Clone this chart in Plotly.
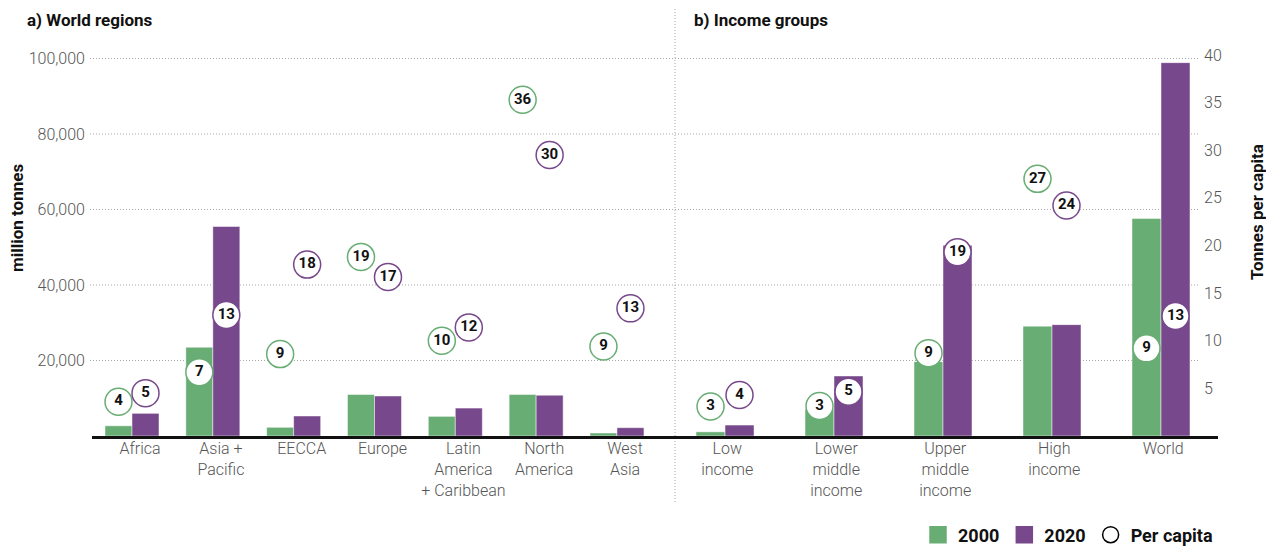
import plotly.graph_objects as go

# ---------------- data ----------------
regions = ["Africa", "Asia +<br>Pacific", "EECCA", "Europe",
           "Latin<br>America<br>+ Caribbean", "North<br>America", "West<br>Asia"]
reg_2000 = [2700, 23500, 2300, 11000, 5200, 11000, 800]
reg_2020 = [6000, 55500, 5300, 10600, 7400, 10800, 2200]
reg_pc_2000 = [3.6, 6.7, 8.6, 18.8, 10.0, 35.3, 9.4]
reg_pc_2020 = [4.5, 12.7, 18.0, 16.7, 11.4, 29.5, 13.4]
reg_lab_2000 = ["4", "7", "9", "19", "10", "36", "9"]
reg_lab_2020 = ["5", "13", "18", "17", "12", "30", "13"]

incomes = ["Low<br>income", "Lower<br>middle<br>income", "Upper<br>middle<br>income",
           "High<br>income", "World"]
inc_2000 = [1100, 7100, 19700, 29100, 57600]
inc_2020 = [2900, 15900, 50500, 29500, 98900]
inc_pc_2000 = [3.1, 3.15, 8.7, 27.0, 9.2]
inc_pc_2020 = [4.3, 4.65, 19.3, 24.2, 12.6]
inc_lab_2000 = ["3", "3", "9", "27", "9"]
inc_lab_2020 = ["4", "5", "19", "24", "13"]

mass_ticks = [20000, 40000, 60000, 80000, 100000]
pc_ticks = [5, 10, 15, 20, 25, 30, 35, 40]

GREEN = "#68ad73"
PURPLE = "#77488b"
TICK_COLOR = "#555555"

# ---------------- layout geometry ----------------
# the page body has an 8px margin, so the figure is drawn 8px in from the window corner
OFF = 8
W, H = 1274 - OFF, 546 - OFF
PLOT_L, PLOT_R, PLOT_T, PLOT_B = 92, 1218, 40, 436   # window pixels of the plot area
ML = PLOT_L - OFF
MT = PLOT_T - OFF
PW = PLOT_R - PLOT_L
PH = PLOT_B - PLOT_T
MR = W - ML - PW
MB = H - MT - PH


def fx(xpx):
    return (xpx - PLOT_L) / PW


def fy(ypx):
    return (PLOT_B - ypx) / PH


split = fx(675)
w_left = 0.334
w_right = 0.266
left_label_shift = 0.1   # region labels sit slightly right of their bar pair
right_label_shift = 0.02

fig = go.Figure()


def add_panel(cats, v0, v1, pc0, pc1, l0, l1, xa, w):
    idx = list(range(len(cats)))
    fig.add_trace(go.Bar(x=idx, y=v0, width=w, offset=-w, marker_color=GREEN,
                         marker_line=dict(color="rgba(255,255,255,0.6)", width=0.8),
                         name="2000", xaxis=xa, yaxis="y", showlegend=False,
                         hoverinfo="skip"))
    fig.add_trace(go.Bar(x=idx, y=v1, width=w, offset=0, marker_color=PURPLE,
                         marker_line=dict(color="rgba(255,255,255,0.6)", width=0.8),
                         name="2020", xaxis=xa, yaxis="y", showlegend=False,
                         hoverinfo="skip"))
    for ys, labs, col, shift in ((pc0, l0, GREEN, -w / 2), (pc1, l1, PURPLE, w / 2)):
        fig.add_trace(go.Scatter(
            x=[i + shift for i in idx], y=ys, text=labs, mode="markers+text",
            textposition="middle center",
            textfont=dict(family="Roboto", size=15, color="#111111", weight="bold"),
            marker=dict(size=27, color="white", line=dict(color=col, width=1.5)),
            xaxis=xa, yaxis="y2", showlegend=False, hoverinfo="skip"))


add_panel(regions, reg_2000, reg_2020, reg_pc_2000, reg_pc_2020,
          reg_lab_2000, reg_lab_2020, "x", w_left)
add_panel(incomes, inc_2000, inc_2020, inc_pc_2000, inc_pc_2020,
          inc_lab_2000, inc_lab_2020, "x2", w_right)

# legend entries
for name, col, sym, lc in (("2000", GREEN, "square", GREEN), ("2020", PURPLE, "square", PURPLE),
                           ("Per capita", "white", "circle", "black")):
    fig.add_trace(go.Scatter(x=[None], y=[None], mode="markers", name=name,
                             marker=dict(size=16, color=col, symbol=sym,
                                         line=dict(color=lc, width=1.5)),
                             xaxis="x", yaxis="y2", showlegend=True))

y_top = PH / 3.775 * 1000
y2_top = PH / 9.525

tickfont = dict(family="Roboto", size=16, color=TICK_COLOR, weight=300)

fig.update_layout(
    width=W, height=H,
    margin=dict(l=ML, r=MR, t=MT, b=MB, autoexpand=False),
    plot_bgcolor="white", paper_bgcolor="white",
    barmode="overlay",
    font=dict(family="Roboto", color="#111111"),
    xaxis=dict(domain=[0, split], range=[-0.495, 6.718],
               tickvals=[i + left_label_shift for i in range(len(regions))],
               ticktext=regions, showgrid=False, zeroline=False, showline=True,
               linecolor="#111111", linewidth=2.5, ticks="", tickfont=tickfont,
               ticklabelstandoff=-4, fixedrange=True, automargin=False),
    xaxis2=dict(domain=[split, 1], range=[-0.459, 4.523],
                tickvals=[i + right_label_shift for i in range(len(incomes))],
                ticktext=incomes, showgrid=False, zeroline=False, showline=True,
                linecolor="#111111", linewidth=2.5, ticks="", tickfont=tickfont,
                ticklabelstandoff=-4, anchor="y", fixedrange=True, automargin=False),
    yaxis=dict(range=[0, y_top], tickvals=mass_ticks, tickformat=",", showgrid=False,
               zeroline=False, showline=False, ticks="", tickfont=tickfont,
               ticklabelstandoff=6, anchor="x", automargin=False),
    yaxis2=dict(range=[0, y2_top], tickvals=pc_ticks, overlaying="y", side="right",
                anchor="free", position=fx(1199), showgrid=False, zeroline=False,
                showline=False, ticks="", tickfont=tickfont, ticklabelstandoff=4,
                automargin=False),
    legend=dict(orientation="h", x=1.0, xanchor="right", y=fy(535),
                yanchor="middle", font=dict(family="Roboto", size=18, color="#111111",
                                            weight="bold"),
                bgcolor="rgba(0,0,0,0)", traceorder="normal", itemsizing="trace"),
    showlegend=True,
)

DOT = "1px,2px"

# dotted horizontal gridlines spanning both panels
for v in mass_ticks:
    fig.add_shape(type="line", xref="paper", yref="y", x0=fx(90), x1=fx(1199),
                  y0=v, y1=v, line=dict(color="#a8a8a8", width=1, dash=DOT), layer="below")

# vertical dotted separator
fig.add_shape(type="line", xref="paper", yref="paper", x0=split, x1=split,
              y0=fy(502), y1=fy(8), line=dict(color="#a8a8a8", width=1, dash=DOT),
              layer="below")


def ann(text, xpx, ypx, size, anchor="left", angle=0):
    fig.add_annotation(text=text, xref="paper", yref="paper", x=fx(xpx), y=fy(ypx),
                       xanchor=anchor, yanchor="middle", showarrow=False, textangle=angle,
                       font=dict(family="Roboto", size=size, color="#111111", weight="bold"))


ann("a) World regions", 25, 20, 17)
ann("b) Income groups", 692, 20, 17)
ann("million tonnes", 17, 218, 17, anchor="center", angle=-90)
ann("Tonnes per capita", 1257, 212, 17, anchor="center", angle=-90)

fig.write_html("out.html")
